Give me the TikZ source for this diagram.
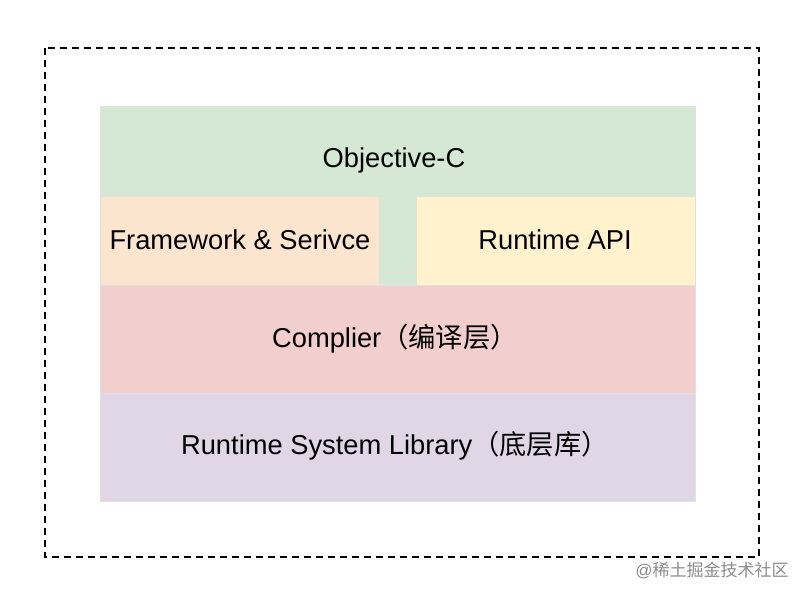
\documentclass[tikz,border=0pt]{standalone}
\usepackage{fontspec}
\setmainfont{Liberation Sans}
\newfontfamily\cjk{Noto Sans CJK SC}
\usepackage{tikz}
\usepackage{color}

\definecolor{objcfill}{HTML}{D5E8D4}
\definecolor{framefill}{HTML}{FCE5CF}
\definecolor{apifill}{HTML}{FFF2CD}
\definecolor{compfill}{HTML}{F2CECC}
\definecolor{libfill}{HTML}{E0D6E6}

\tikzset{
    layer/.style={draw=black!12, line width=0.6pt},
    label/.style={font=\fontsize{27.3}{31}\selectfont, text=black}
}

\begin{document}
\begin{tikzpicture}[x=1pt, y=-1pt]
        \useasboundingbox (0,0) rectangle (806,598);
        % outer frame
        \draw[dashed, line width=1.6pt, dash pattern=on 7pt off 5pt] (45,48) rectangle (759,557);
        % layers
        \draw[layer, fill=objcfill] (100,106) rectangle (695,285);
        \draw[layer, fill=framefill] (100,196) rectangle (379,285);
        \draw[layer, fill=apifill] (416,196) rectangle (695,285);
        \draw[layer, fill=compfill] (100,285) rectangle (695,393);
        \draw[layer, fill=libfill] (100,393) rectangle (695,501);
        \node[label] (objc) at (394,160) {Objective-C};
        \node[label] (frame) at (240,240) {Framework \& Serivce};
        \node[label] (api) at (555,240) {Runtime API};
        \node[label] (comp) at (395,339) {Complier{\cjk（编译层）}};
        \node[label] (lib) at (395,446) {Runtime System Library{\cjk（底层库）}};
        % watermark
        \node[font=\fontsize{17}{19}\selectfont, text=black!45] (mark) at (712,570) {@{\cjk 稀土掘金技术社区}};
\end{tikzpicture}
\end{document}
